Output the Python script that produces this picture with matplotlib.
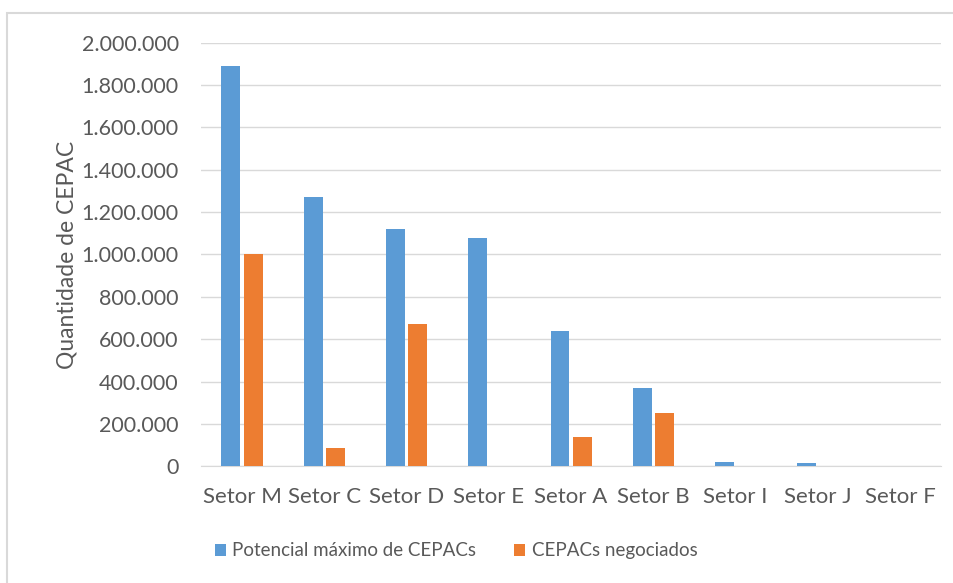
import numpy as np
import matplotlib
matplotlib.use("Agg")
import matplotlib.pyplot as plt
from matplotlib.ticker import FuncFormatter
from matplotlib.patches import Rectangle

setores = ["Setor M", "Setor C", "Setor D", "Setor E", "Setor A",
           "Setor B", "Setor I", "Setor J", "Setor F"]
potencial = [1890000, 1270000, 1118000, 1080000, 641000, 368000, 23000, 14000, 0]
negociados = [1000000, 85000, 674000, 0, 141000, 250000, 0, 0, 0]

azul = "#5b9bd5"
laranja = "#ed7d31"
cinza = "#595959"

plt.rcParams["font.family"] = ["Lato", "DejaVu Sans"]

fig = plt.figure(figsize=(9.54, 5.83), dpi=100)
ax = fig.add_axes([0.2106, 0.2, 0.776, 0.727])

x = np.arange(len(setores))
w = 0.23
ax.bar(x - w / 2 - 0.02, potencial, w, color=azul, label="Potencial máximo de CEPACs", zorder=3)
ax.bar(x + w / 2 + 0.02, negociados, w, color=laranja, label="CEPACs negociados", zorder=3)

ax.set_xlim(-0.5, len(setores) - 0.5)
ax.set_ylim(0, 2000000)
ax.set_yticks(np.arange(0, 2000001, 200000))
ax.yaxis.set_major_formatter(FuncFormatter(lambda v, p: f"{int(v):,}".replace(",", ".")))
ax.set_xticks(x)
ax.set_xticklabels(setores)
ax.grid(axis="y", color="#d9d9d9", linewidth=1, zorder=0)
for s in ["top", "right", "left"]:
    ax.spines[s].set_visible(False)
ax.spines["bottom"].set_color("#d9d9d9")
ax.tick_params(axis="both", length=0, labelsize=16, labelcolor=cinza)
ax.tick_params(axis="y", labelsize=15.5, pad=16)
ax.tick_params(axis="x", pad=15)
ax.set_ylabel("Quantidade de CEPAC", fontsize=16.5, color=cinza, labelpad=3)

leg = fig.legend(loc="center", bbox_to_anchor=(0.478, 0.055), ncol=2, frameon=False,
                 fontsize=13.5, handlelength=0.6, handleheight=0.6, handletextpad=0.35,
                 columnspacing=2.0)
for t in leg.get_texts():
    t.set_color(cinza)

# moldura do gráfico
fig.patches.append(Rectangle((7.5 / 954, -0.01), 1.02, 1 - 12.5 / 583 + 0.01,
                             transform=fig.transFigure, fill=False,
                             edgecolor="#d9d9d9", linewidth=1.5))

fig.savefig("out.png", dpi=100)
